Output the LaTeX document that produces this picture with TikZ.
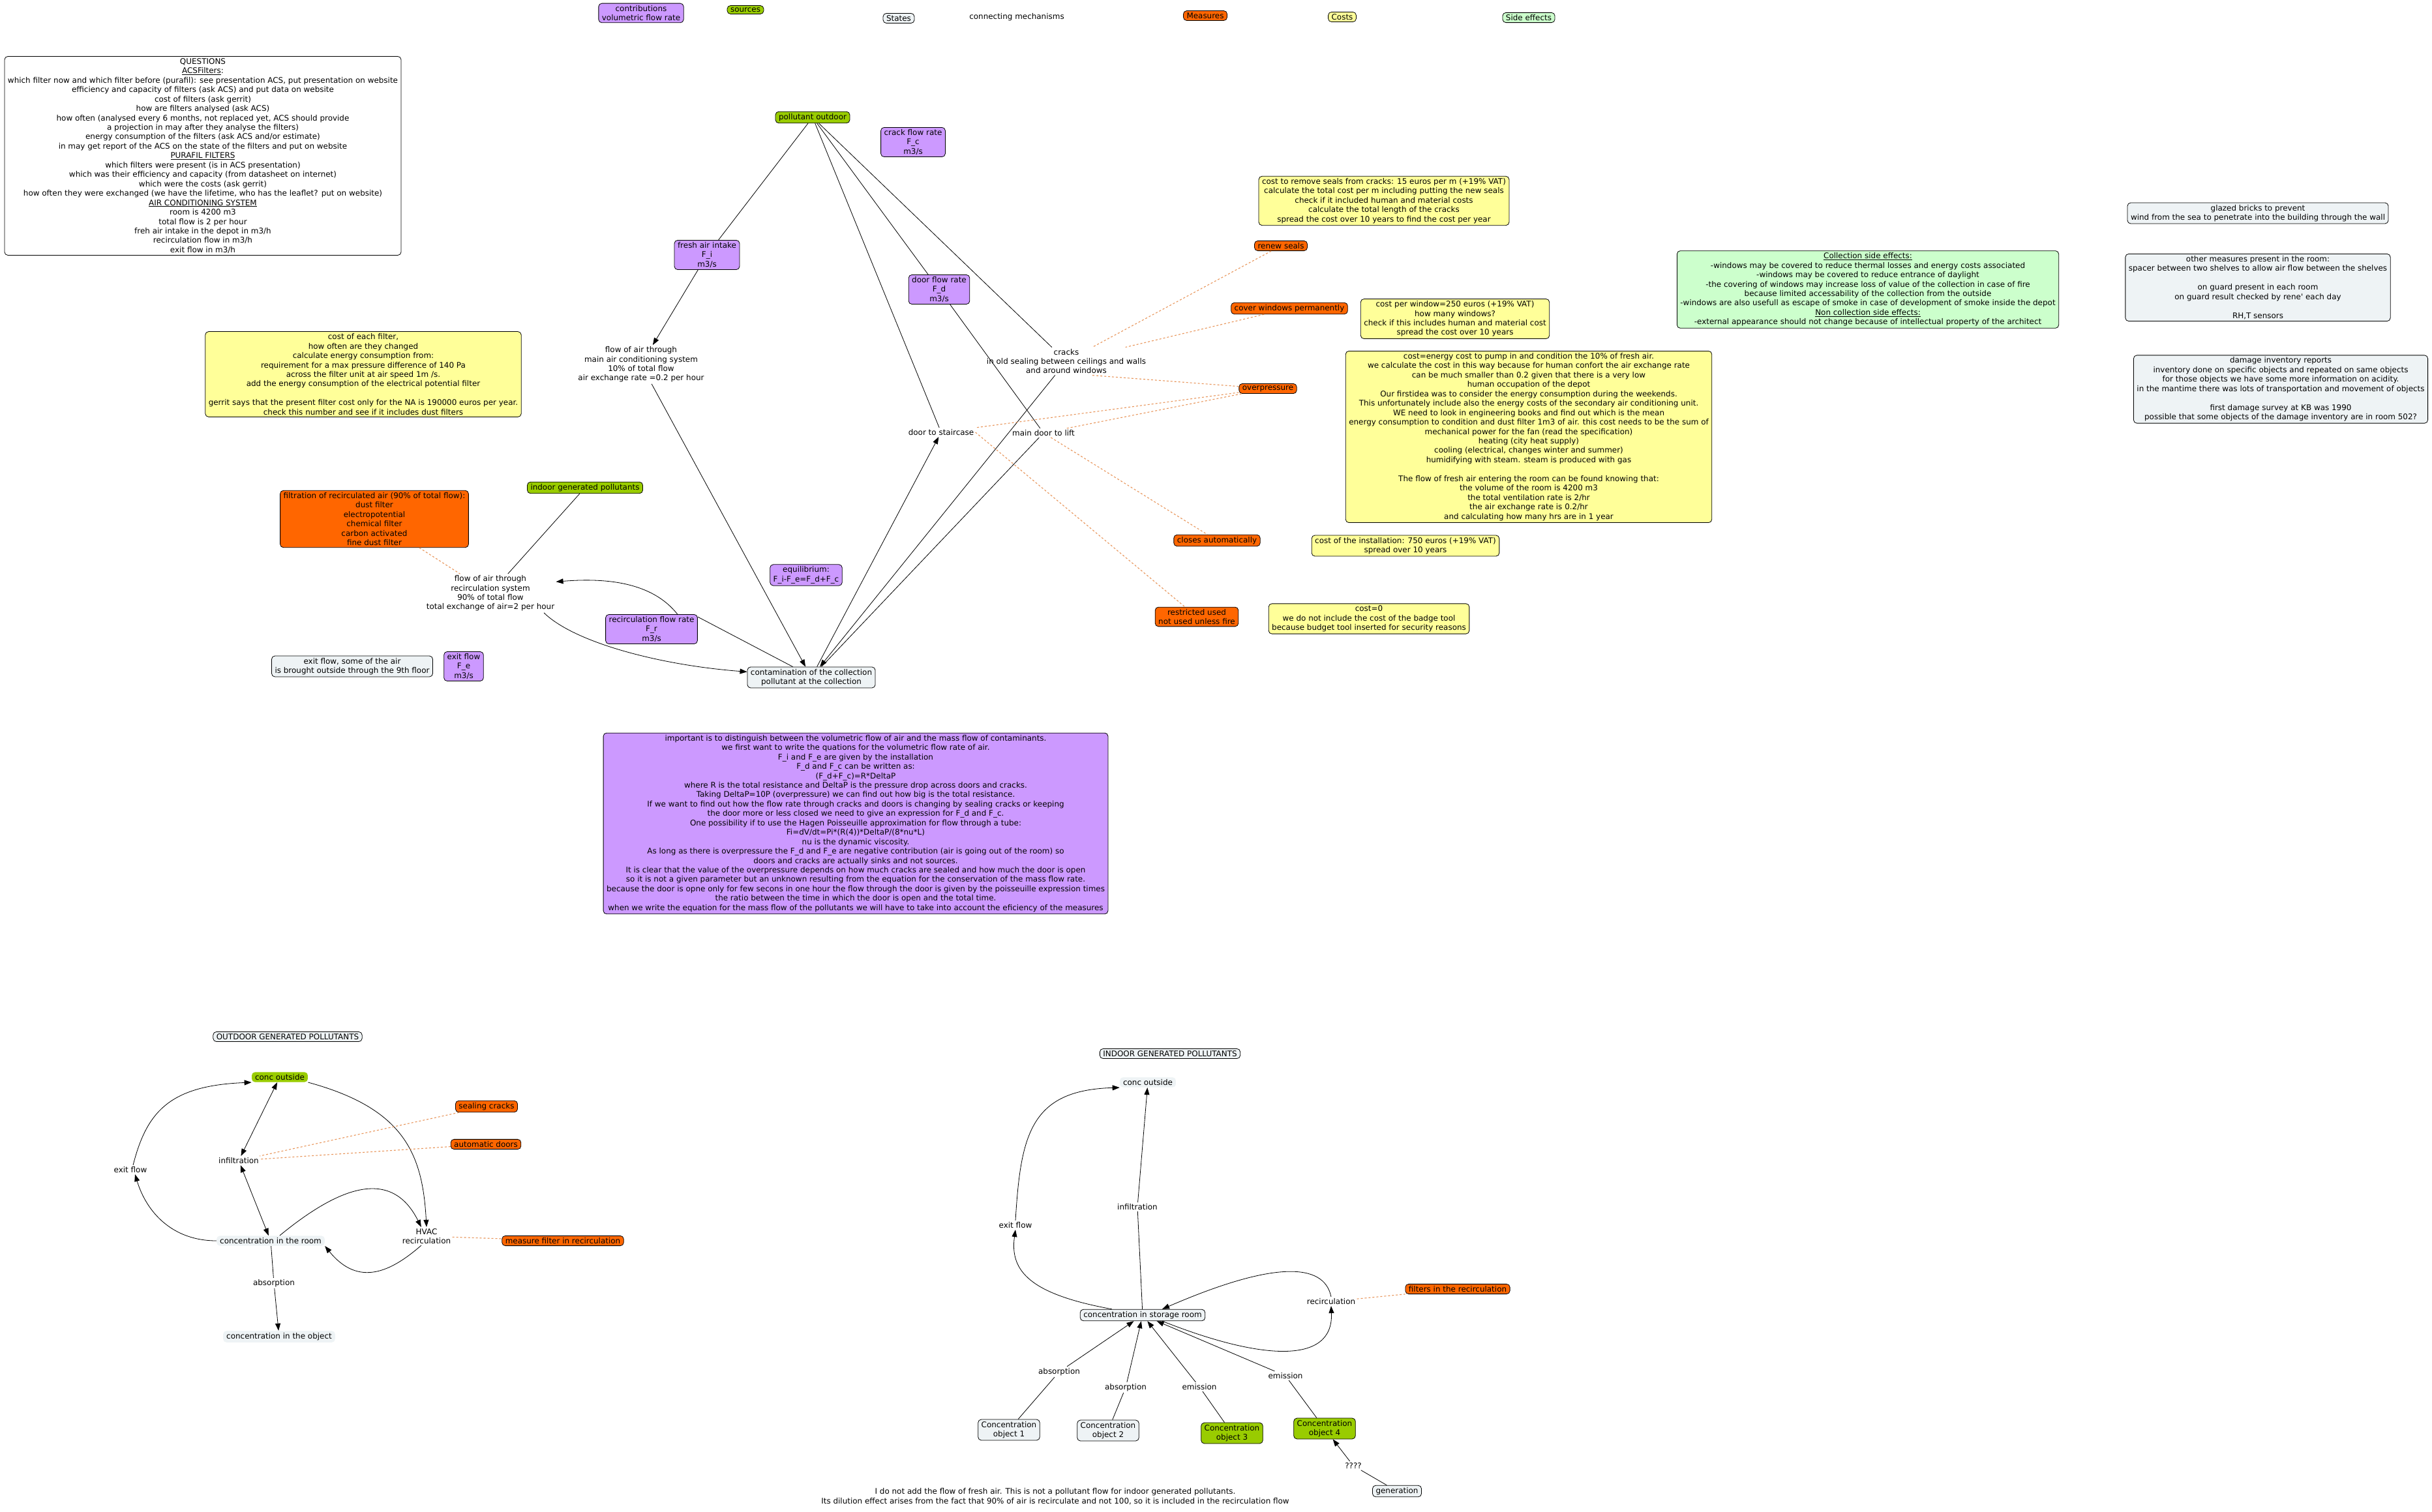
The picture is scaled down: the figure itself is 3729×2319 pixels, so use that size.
\documentclass[tikz,border=0pt]{standalone}
\usepackage{fontspec}
\setmainfont{DejaVu Sans}
\usetikzlibrary{arrows.meta}

\definecolor{contribcol}{HTML}{CC99FF}
\definecolor{sourcecol}{HTML}{99CC00}
\definecolor{statecol}{HTML}{EEF3F5}
\definecolor{measurecol}{HTML}{FF6600}
\definecolor{costcol}{HTML}{FFFF99}
\definecolor{sidecol}{HTML}{CCFFCC}
\definecolor{dashcol}{HTML}{E8955A}

\begin{document}
\begin{tikzpicture}[x=1bp, y=-1bp, line width=0.8bp,
    font=\fontsize{12}{14.5}\selectfont,
    >={Triangle[length=11bp, width=8bp]},
    conceptbox/.style={draw, rounded corners=5bp, inner xsep=5bp, inner ysep=3bp, align=center},
    contribbox/.style={conceptbox, fill=contribcol},
    sourcebox/.style={conceptbox, fill=sourcecol},
    sourceflat/.style={conceptbox, draw=none, fill=sourcecol},
    statebox/.style={conceptbox, fill=statecol},
    stateflat/.style={conceptbox, draw=none, fill=statecol},
    measurebox/.style={conceptbox, fill=measurecol},
    costbox/.style={conceptbox, fill=costcol},
    sidebox/.style={conceptbox, fill=sidecol},
    notebox/.style={conceptbox, fill=white},
    phrase/.style={align=center, inner sep=2bp},
    measureline/.style={draw=dashcol, line width=1.1bp, dash pattern=on 3bp off 3bp}]

    \fill[white] (0,0) rectangle (3729,2319);
    \useasboundingbox (0,0) rectangle (3729,2319);

    % legend
    \node[contribbox] (legcontrib) at (983,20) {contributions\\volumetric flow rate};
    \node[sourcebox] (legsource) at (1143,15) {sources};
    \node[statebox] (legstate) at (1378,28) {States};
    \node[phrase] (legmech) at (1559,26) {connecting mechanisms};
    \node[measurebox] (legmeasure) at (1848,24) {Measures};
    \node[costbox] (legcost) at (2058,26) {Costs};
    \node[sidebox] (legside) at (2344,27) {Side effects};

    % notes and questions
    \node[notebox] (questions) at (311,239) {QUESTIONS\\
        \underline{ACSFilters}:\\
        which filter now and which filter before (purafil): see presentation ACS, put presentation on website\\
        efficiency and capacity of filters (ask ACS) and put data on website\\
        cost of filters (ask gerrit)\\
        how are filters analysed (ask ACS)\\
        how often (analysed every 6 months, not replaced yet, ACS should provide\\
        a projection in may after they analyse the filters)\\
        energy consumption of the filters (ask ACS and/or estimate)\\
        in may get report of the ACS on the state of the filters and put on website\\
        \underline{PURAFIL FILTERS}\\
        which filters were present (is in ACS presentation)\\
        which was their efficiency and capacity (from datasheet on internet)\\
        which were the costs (ask gerrit)\\
        how often they were exchanged (we have the lifetime, who has the leaflet? put on website)\\
        \underline{AIR CONDITIONING SYSTEM}\\
        room is 4200 m3\\
        total flow is 2 per hour\\
        freh air intake in the depot in m3/h\\
        recirculation flow in m3/h\\
        exit flow in m3/h};
    \node[costbox] (filtercost) at (557,574) {cost of each filter,\\
        how often are they changed\\
        calculate energy consumption from:\\
        requirement for a max pressure difference of 140 Pa\\
        across the filter unit at air speed 1m /s.\\
        add the energy consumption of the electrical potential filter\\[14.5pt]
        gerrit says that the present filter cost only for the NA is 190000 euros per year.\\
        check this number and see if it includes dust filters};

    % upper map: flows of air
    \node[sourcebox] (pout) at (1246,180) {pollutant outdoor};
    \node[contribbox] (crackrate) at (1400,218) {crack flow rate\\F\_c\\m3/s};
    \node[contribbox] (fresh) at (1084,391) {fresh air intake\\F\_i\\m3/s};
    \node[contribbox] (doorrate) at (1440,444) {door flow rate\\F\_d\\m3/s};
    \node[phrase] (flowmain) at (983,559) {flow of air through\\main air conditioning system\\10\% of total flow\\air exchange rate =0.2 per hour};
    \node[phrase] (cracks) at (1635,554) {cracks\\in old sealing between ceilings and walls\\and around windows};
    \node[phrase] (staircase) at (1443,663) {door to staircase};
    \node[phrase] (lift) at (1600,664) {main door to lift};
    \node[sourcebox] (indoor) at (897,748) {indoor generated pollutants};
    \node[measurebox] (filtration) at (574,796) {filtration of recirculated air (90\% of total flow):\\dust filter\\electropotential\\chemical filter\\carbon activated\\fine dust filter};
    \node[phrase] (flowrecirc) at (752,910) {flow of air through\\recirculation system\\90\% of total flow\\total exchange of air=2 per hour};
    \node[contribbox] (equil) at (1236,882) {equilibrium:\\F\_i-F\_e=F\_d+F\_c};
    \node[contribbox] (recirc) at (999,965) {recirculation flow rate\\F\_r\\m3/s};
    \node[statebox] (exitnote) at (540,1022) {exit flow, some of the air\\is brought outside through the 9th floor};
    \node[contribbox] (exitrate) at (711,1022) {exit flow\\F\_e\\m3/s};
    \node[statebox] (contam) at (1244,1039) {contamination of the collection\\pollutant at the collection};

    % measures and costs
    \node[costbox] (sealcost) at (2122,308) {cost to remove seals from cracks: 15 euros per m (+19\% VAT)\\
        calculate the total cost per m including putting the new seals\\
        check if it included human and material costs\\
        calculate the total length of the cracks\\
        spread the cost over 10 years to find the cost per year};
    \node[measurebox] (renew) at (1964,377) {renew seals};
    \node[measurebox] (coverwin) at (1977,473) {cover windows permanently};
    \node[costbox] (wincost) at (2231,489) {cost per window=250 euros (+19\% VAT)\\how many windows?\\check if this includes human and material cost\\spread the cost over 10 years};
    \node[measurebox] (overp) at (1944,596) {overpressure};
    \node[costbox] (energycost) at (2344,670) {cost=energy cost to pump in and condition the 10\% of fresh air.\\
        we calculate the cost in this way because for human confort the air exchange rate\\
        can be much smaller than 0.2 given that there is a very low\\
        human occupation of the depot\\
        Our firstidea was to consider the energy consumption during the weekends.\\
        This unfortunately include also the energy costs of the secondary air conditioning unit.\\
        WE need to look in engineering books and find out which is the mean\\
        energy consumption to condition and dust filter 1m3 of air. this cost needs to be the sum of\\
        mechanical power for the fan (read the specification)\\
        heating (city heat supply)\\
        cooling (electrical, changes winter and summer)\\
        humidifying with steam. steam is produced with gas\\[14.5pt]
        The flow of fresh air entering the room can be found knowing that:\\
        the volume of the room is 4200 m3\\
        the total ventilation rate is 2/hr\\
        the air exchange rate is 0.2/hr\\
        and calculating how many hrs are in 1 year};
    \node[measurebox] (closes) at (1866,829) {closes automatically};
    \node[costbox] (installcost) at (2155,837) {cost of the installation: 750 euros (+19\% VAT)\\spread over 10 years};
    \node[measurebox] (restricted) at (1835,946) {restricted used\\not used unless fire};
    \node[costbox] (zerocost) at (2099,949) {cost=0\\we do not include the cost of the badge tool\\because budget tool inserted for security reasons};

    % side effects and other notes
    \node[sidebox] (sidefx) at (2864,444) {\underline{Collection side effects:}\\
        -windows may be covered to reduce thermal losses and energy costs associated\\
        -windows may be covered to reduce entrance of daylight\\
        -the covering of windows may increase loss of value of the collection in case of fire\\
        because limited accessability of the collection from the outside\\
        -windows are also usefull as escape of smoke in case of development of smoke inside the depot\\
        \underline{Non collection side effects:}\\
        -external appearance should not change because of intellectual property of the architect};
    \node[statebox] (glazed) at (3462,327) {glazed bricks to prevent\\wind from the sea to penetrate into the building through the wall};
    \node[statebox] (othermeas) at (3462,441) {other measures present in the room:\\
        spacer between two shelves to allow air flow between the shelves\\[14.5pt]
        on guard present in each room\\
        on guard result checked by rene\textquotesingle{} each day\\[14.5pt]
        RH,T sensors};
    \node[statebox] (damage) at (3497,597) {damage inventory reports\\
        inventory done on specific objects and repeated on same objects\\
        for those objects we have some more information on acidity.\\
        in the mantime there was lots of transportation and movement of objects\\[14.5pt]
        first damage survey at KB was 1990\\
        possible that some objects of the damage inventory are in room 502?};
    \node[contribbox] (equations) at (1312,1263) {important is to distinguish between the volumetric flow of air and the mass flow of contaminants.\\
        we first want to write the quations for the volumetric flow rate of air.\\
        F\_i and F\_e are given by the installation\\
        F\_d and F\_c can be written as:\\
        (F\_d+F\_c)=R*DeltaP\\
        where R is the total resistance and DeltaP is the pressure drop across doors and cracks.\\
        Taking DeltaP=10P (overpressure) we can find out how big is the total resistance.\\
        If we want to find out how the flow rate through cracks and doors is changing by sealing cracks or keeping\\
        the door more or less closed we need to give an expression for F\_d and F\_c.\\
        One possibility if to use the Hagen Poisseuille approximation for flow through a tube:\\
        Fi=dV/dt=Pi*(R(4))*DeltaP/(8*nu*L)\\
        nu is the dynamic viscosity.\\
        As long as there is overpressure the F\_d and F\_e are negative contribution (air is going out of the room) so\\
        doors and cracks are actually sinks and not sources.\\
        It is clear that the value of the overpressure depends on how much cracks are sealed and how much the door is open\\
        so it is not a given parameter but an unknown resulting from the equation for the conservation of the mass flow rate.\\
        because the door is opne only for few secons in one hour the flow through the door is given by the poisseuille expression times\\
        the ratio between the time in which the door is open and the total time.\\
        when we write the equation for the mass flow of the pollutants we will have to take into account the eficiency of the measures};

    % connectors of the upper map
    \draw (pout) -- (fresh);
    \draw[->] (fresh) -- (flowmain);
    \draw[->] (flowmain) -- (contam);
    \draw (pout) -- (staircase);
    \draw (pout) -- (doorrate);
    \draw (pout) -- (cracks);
    \draw (doorrate) -- (lift);
    \draw[->] (cracks) -- (contam);
    \draw (lift) -- (contam);
    \draw[->] (contam) -- (staircase);
    \draw (recirc.15) -- (contam.150);
    \draw[->] (recirc.30) .. controls (1000,893) and (930,886) .. (flowrecirc.10);
    \draw[->] (flowrecirc.-20) .. controls (880,985) and (1010,1020) .. (contam.175);
    \draw (indoor) -- (flowrecirc);

    % measures attached to mechanisms
    \draw[measureline] (filtration) -- (flowrecirc);
    \draw[measureline] (renew) -- (cracks);
    \draw[measureline] (coverwin) -- (cracks);
    \draw[measureline] (overp) -- (cracks.-30);
    \draw[measureline] (overp) -- (staircase);
    \draw[measureline] (overp) -- (lift);
    \draw[measureline] (staircase.east) -- (restricted);
    \draw[measureline] (lift) -- (closes);

    % outdoor generated pollutants
    \node[statebox] (outtitle) at (441,1590) {OUTDOOR GENERATED POLLUTANTS};
    \node[sourceflat] (coutL) at (429,1652) {conc outside};
    \node[measurebox] (sealing) at (746,1697) {sealing cracks};
    \node[measurebox] (autodoors) at (745,1755) {automatic doors};
    \node[phrase] (infilL) at (366,1780) {infiltration};
    \node[phrase] (exitL) at (200,1794) {exit flow};
    \node[stateflat] (roomL) at (415,1903) {concentration in the room};
    \node[phrase] (hvac) at (654,1896) {HVAC\\recirculation};
    \node[measurebox] (measfilter) at (863,1903) {measure filter in recirculation};
    \node[phrase] (absL) at (420,1968) {absorption};
    \node[stateflat] (objL) at (428,2050) {concentration in the object};

    \draw[->] (roomL.west) .. controls (265,1903) and (225,1860) .. (exitL.-45);
    \draw[->] (exitL.60) .. controls (225,1705) and (260,1665) .. (coutL.south west);
    \draw[<->] (coutL) -- (infilL);
    \draw[<->] (infilL) -- (roomL);
    \draw[->] (coutL.south east) .. controls (620,1700) and (648,1770) .. (hvac.north);
    \draw[->] (roomL.30) .. controls (520,1820) and (600,1790) .. (hvac.120);
    \draw[->] (hvac.-120) .. controls (600,1950) and (550,1975) .. (roomL.south east);
    \draw (roomL) -- (absL);
    \draw[->] (absL) -- (objL);
    \draw[measureline] (sealing) -- (infilL);
    \draw[measureline] (autodoors) -- (infilL);
    \draw[measureline] (hvac) -- (measfilter);

    % indoor generated pollutants
    \node[statebox] (intitle) at (1794,1616) {INDOOR GENERATED POLLUTANTS};
    \node[stateflat] (coutR) at (1760,1660) {conc outside};
    \node[phrase] (exitR) at (1557,1879) {exit flow};
    \node[phrase] (infilR) at (1744,1851) {infiltration};
    \node[statebox] (storage) at (1752,2017) {concentration in storage room};
    \node[phrase] (recircR) at (2041,1996) {recirculation};
    \node[measurebox] (filtersR) at (2235,1977) {filters in the recirculation};
    \node[phrase] (absA) at (1624,2104) {absorption};
    \node[phrase] (absB) at (1726,2128) {absorption};
    \node[phrase] (emA) at (1839,2127) {emission};
    \node[phrase] (emB) at (1971,2110) {emission};
    \node[statebox] (obj1) at (1547,2193) {Concentration\\object 1};
    \node[statebox] (obj2) at (1699,2194) {Concentration\\object 2};
    \node[sourcebox] (obj3) at (1889,2198) {Concentration\\object 3};
    \node[sourcebox] (obj4) at (2031,2191) {Concentration\\object 4};
    \node[phrase] (unknown) at (2075,2248) {????};
    \node[statebox] (generation) at (2142,2287) {generation};
    \node[phrase] (freshnote) at (1618,2295) {I do not add the flow of fresh air. This is not a pollutant flow for indoor generated pollutants.\\Its dilution effect arises from the fact that 90\% of air is recirculate and not 100, so it is included in the recirculation flow};

    \draw[->] (storage.169) .. controls (1580,1985) and (1548,1950) .. (exitR.south);
    \draw[->] (exitR.north) .. controls (1565,1740) and (1580,1672) .. (coutR.south west);
    \draw (storage) -- (infilR);
    \draw[->] (infilR) -- (coutR);
    \draw[->] (storage.-17) .. controls (1930,2085) and (2045,2095) .. (recircR.south);
    \draw[->] (recircR.north) .. controls (2030,1935) and (1950,1935) .. (storage.17);
    \draw[measureline] (recircR) -- (filtersR);
    \draw[->] (absA) -- (storage);
    \draw (absA) -- (obj1);
    \draw[->] (absB) -- (storage);
    \draw (absB) -- (obj2);
    \draw[->] (emA) -- (storage);
    \draw (emA) -- (obj3);
    \draw[->] (emB) -- (storage);
    \draw (emB) -- (obj4);
    \draw (generation) -- (unknown);
    \draw[->] (unknown) -- (obj4);
\end{tikzpicture}
\end{document}
